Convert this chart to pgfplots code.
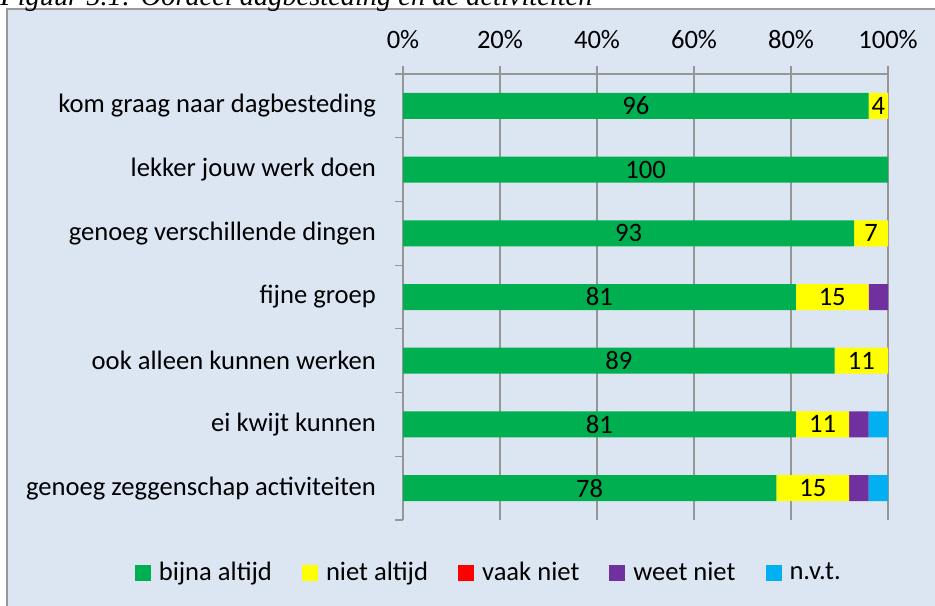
\documentclass[border=0pt]{standalone}
\usepackage{fontspec}
\setmainfont{Carlito}
\newfontfamily\capfont{Liberation Serif}
\usepackage{pgfplots}
\pgfplotsset{compat=1.18}
\definecolor{bgc}{RGB}{220,230,242}
\definecolor{cgreen}{RGB}{0,176,80}
\definecolor{cyellow}{RGB}{255,255,0}
\definecolor{cred}{RGB}{255,0,0}
\definecolor{cpurple}{RGB}{112,48,160}
\definecolor{cblue}{RGB}{0,176,240}
\definecolor{gridc}{RGB}{150,150,150}

\begin{document}
\begin{tikzpicture}
  \useasboundingbox (0pt,0pt) rectangle (467.5pt,302.5pt);
  % background frame (chart area cut off on the right and bottom)
  \fill[bgc] (3.5pt,-5pt) rectangle (475pt,298pt);
  \draw[gray!80, line width=1pt] (3.5pt,-5pt) -- (3.5pt,298pt) -- (475pt,298pt);
  \node[anchor=base west, inner sep=0pt, font=\fontsize{14.2}{16}\selectfont\capfont\itshape]
    at (0pt,299.5pt) {Figuur 5.1: Oordeel dagbesteding en de activiteiten};

  \begin{axis}[
    at={(201.5pt,42.5pt)},
    anchor=south west,
    scale only axis,
    width=242.5pt,
    height=223pt,
    xbar stacked,
    bar width=13pt,
    xmin=0, xmax=100,
    ymin=-0.5, ymax=6.5,
    axis x line*=top,
    axis y line*=left,
    axis line style={-, draw=gridc, line width=0.6pt},
    xtick={0,20,...,100},
    xticklabel={\pgfmathprintnumber{\tick}\%},
    /pgf/number format/assume math mode=true,
    xmajorgrids,
    grid style={draw=gridc, line width=0.6pt},
    tick align=outside,
    major tick length=4pt,
    minor tick length=4pt,
    tick style={draw=gridc, line width=0.6pt},
    ytick={0,...,6},
    major y tick style={draw=none},
    minor ytick={-0.5,0.5,...,6.5},
    yticklabels={genoeg zeggenschap activiteiten, ei kwijt kunnen, ook alleen kunnen werken, fijne groep, genoeg verschillende dingen, lekker jouw werk doen, kom graag naar dagbesteding},
    ticklabel style={font=\fontsize{13.3}{16}\selectfont},
    xticklabel style={yshift=5pt},
    yticklabel style={xshift=-6pt},
    legend columns=5,
    legend style={at={(0.179,-0.118)}, anchor=center, draw=none, fill=none,
      font=\fontsize{13.3}{16}\selectfont,
      /tikz/every odd column/.append style={column sep=2pt},
      /tikz/every even column/.append style={column sep=13pt}},
    legend image code/.code={\fill[#1] (0pt,-4pt) rectangle (8pt,4pt);},
    lbl/.style={nodes near coords, point meta=explicit symbolic,
      every node near coord/.append style={font=\fontsize{13.3}{16}\selectfont, text=black}},
  ]
    \addplot[fill=cgreen, draw=none, lbl] coordinates {
      (77,0) [78] (81,1) [81] (89,2) [89] (81,3) [81] (93,4) [93] (100,5) [100] (96,6) [96]};
    \addlegendentry{bijna altijd}
    \addplot[fill=cyellow, draw=none, lbl] coordinates {
      (15,0) [15] (11,1) [11] (11,2) [11] (15,3) [15] (7,4) [7] (0,5) [] (4,6) [4]};
    \addlegendentry{niet altijd}
    \addplot[fill=cred, draw=none] coordinates {
      (0,0) (0,1) (0,2) (0,3) (0,4) (0,5) (0,6)};
    \addlegendentry{vaak niet}
    \addplot[fill=cpurple, draw=none] coordinates {
      (4,0) (4,1) (0,2) (4,3) (0,4) (0,5) (0,6)};
    \addlegendentry{weet niet}
    \addplot[fill=cblue, draw=none] coordinates {
      (4,0) (4,1) (0,2) (0,3) (0,4) (0,5) (0,6)};
    \addlegendentry{n.v.t.}
  \end{axis}
\end{tikzpicture}
\end{document}
